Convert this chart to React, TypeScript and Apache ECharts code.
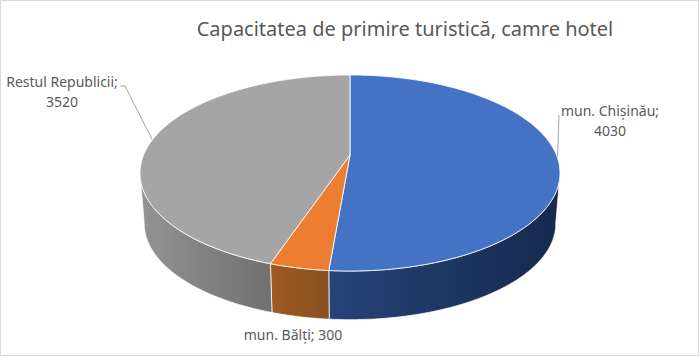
import React, { useEffect, useRef } from "react";
import * as echarts from "echarts";

const titleText = "Capacitatea de primire turistică, camre hotel";
const categories = ["mun. Chișinău", "mun. Bălți", "Restul Republicii"];
const values = [4030, 300, 3520];

const faceColors = ["#4472C4", "#ED7D31", "#A5A5A5"];
const sideStops = [
  ["#264478", "#16294d"],
  ["#a05a22", "#85501f"],
  ["#939393", "#707070"],
];
const sideRanges = [
  [330, 558],
  [271, 330],
  [142, 272],
];
const labelLayout = [
  { x: 610, y: 120.5, line: [[559, 115], [557, 172]] },
  { x: 293, y: 334, line: null },
  { x: 62, y: 91.5, line: [[120, 86], [125, 86], [153, 141]] },
];

const CX = 350;
const TOP_APEX_Y = 155;
const BOTTOM_APEX_Y = 206;
const A = 206.4;
const B = 94.7;
const K = 0.1837;
const BOTTOM_SCALE = 0.98;
const SIDE_MIN = (100.6 * Math.PI) / 180;
const SIDE_MAX = (259.4 * Math.PI) / 180;

const total = values.reduce((s, v) => s + v, 0);
function sliceAngles(i: number): [number, number] {
  let before = 0;
  for (let j = 0; j < i; j++) before += values[j];
  return [
    (before / total) * Math.PI * 2,
    ((before + values[i]) / total) * Math.PI * 2,
  ];
}
function project(theta: number, apexY: number, scale: number): number[] {
  const u = Math.sin(theta);
  const v = Math.cos(theta);
  const w = 1 + K * v;
  return [CX + (A * scale * u) / w, apexY - (B * scale * v) / w];
}
function arc(a0: number, a1: number, apexY: number, scale: number): number[][] {
  const n = Math.max(2, Math.ceil(Math.abs(a1 - a0) / 0.01));
  const pts: number[][] = [];
  for (let i = 0; i <= n; i++) pts.push(project(a0 + ((a1 - a0) * i) / n, apexY, scale));
  return pts;
}

const renderLeaders = (params: any) => {
  const l = labelLayout[params.dataIndex].line;
  if (!l) return { type: "group", children: [] };
  return {
    type: "polyline",
    shape: { points: l },
    style: { stroke: "#a6a6a6", lineWidth: 1, fill: "none" },
  };
};

const renderSides = (params: any) => {
  const i = params.dataIndex;
  const [a0, a1] = sliceAngles(i);
  const s = Math.max(a0, SIDE_MIN);
  const e = Math.min(a1, SIDE_MAX);
  const pts = arc(s, e, TOP_APEX_Y, 1).concat(arc(e, s, BOTTOM_APEX_Y, BOTTOM_SCALE));
  const [x0, x1] = sideRanges[i];
  return {
    type: "polygon",
    shape: { points: pts },
    style: {
      fill: new echarts.graphic.LinearGradient(
        x0, 0, x1, 0,
        [
          { offset: 0, color: sideStops[i][0] },
          { offset: 1, color: sideStops[i][1] },
        ],
        true
      ),
      stroke: "rgba(255,255,255,0.75)",
      lineWidth: 1,
    },
  };
};

const renderFaces = (params: any) => {
  const i = params.dataIndex;
  const [a0, a1] = sliceAngles(i);
  const pts = [[CX, TOP_APEX_Y]].concat(arc(a0, a1, TOP_APEX_Y, 1));
  return {
    type: "polygon",
    shape: { points: pts },
    style: { fill: faceColors[i], stroke: "rgba(255,255,255,0.85)", lineWidth: 1 },
  };
};

const renderLabels = (params: any) => {
  const i = params.dataIndex;
  const p = labelLayout[i];
  const text =
    i === 1
      ? `${categories[i]}; ${values[i]}`
      : `${categories[i]};\n${values[i]}`;
  return {
    type: "text",
    x: p.x,
    y: p.y,
    style: {
      text,
      fill: "#595959",
      font: '14px "Noto Sans"',
      align: "center",
      verticalAlign: "middle",
      lineHeight: 19.5,
    },
  };
};

export default function App() {
  const ref = useRef<HTMLDivElement>(null);
  useEffect(() => {
    document.body.style.margin = "0";
    const chart = echarts.init(ref.current!, null, { renderer: "svg" });
    const seriesData = categories.map((name, i) => ({ name, value: values[i] }));
    const custom = (renderItem: any, z: number) => ({
      type: "custom",
      coordinateSystem: "none",
      silent: true,
      z,
      data: seriesData,
      renderItem,
    });
    chart.setOption({
      animation: false,
      backgroundColor: "#ffffff",
      title: {
        text: titleText,
        left: 400,
        top: 13,
        textAlign: "center",
        textStyle: {
          color: "#595959",
          fontFamily: "Noto Sans",
          fontSize: 20,
          fontWeight: "normal",
        },
      },
      graphic: [
        {
          type: "rect",
          silent: true,
          z: -1,
          shape: { x: 0.5, y: 0.5, width: 698, height: 355 },
          style: { fill: "none", stroke: "#d9d9d9", lineWidth: 1 },
        },
      ],
      series: [
        custom(renderLeaders, 1),
        custom(renderSides, 2),
        custom(renderFaces, 3),
        custom(renderLabels, 4),
      ],
    });
    return () => chart.dispose();
  }, []);
  return <div ref={ref} style={{ width: 700, height: 357 }} />;
}
